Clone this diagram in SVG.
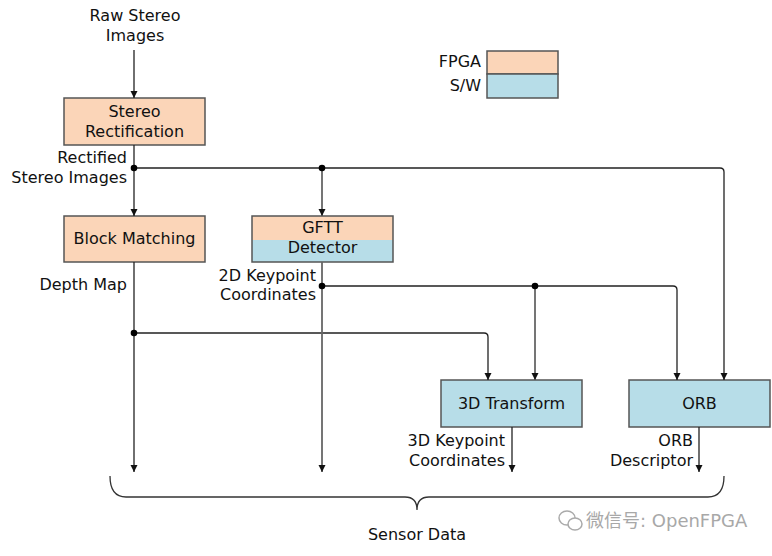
<svg xmlns="http://www.w3.org/2000/svg" width="772" height="556" viewBox="0 0 772 556">
<defs>
<marker id="arr" viewBox="0 0 10 10" refX="10" refY="5" markerWidth="7" markerHeight="9" markerUnits="userSpaceOnUse" orient="auto">
<path d="M0,0 L10,5 L0,10 Z" fill="#111"/>
</marker>
<style>
text{font-family:"DejaVu Sans","Noto Sans CJK SC",sans-serif;font-size:16px;fill:#111}
.c{text-anchor:middle}
.r{text-anchor:end}
.box{stroke:#555;stroke-width:1.5}
.fpga{fill:#FBD5B8}
.sw{fill:#B7DDE8}
.ln{fill:none;stroke:#222;stroke-width:1.3}
.lg{fill:none;stroke:#666;stroke-width:1.8}
.dot{fill:#000}
.wm{fill:#a8a8a8;font-size:18px}
</style>
</defs>
<rect width="772" height="556" fill="#fff"/>

<g id="input-label">
<text class="c" x="135" y="21">Raw Stereo</text>
<text class="c" x="135" y="41">Images</text>
</g>

<g id="legend">
<rect class="box fpga" x="487" y="51" width="71" height="23"/>
<rect class="box sw" x="487" y="74" width="71" height="24"/>
<text class="r" x="481" y="67">FPGA</text>
<text class="r" x="481" y="91">S/W</text>
</g>

<g id="stereo-rectification">
<rect class="box fpga" x="64" y="98" width="141" height="47"/>
<text class="c" x="134.5" y="117">Stereo</text>
<text class="c" x="134.5" y="137">Rectification</text>
</g>

<g id="block-matching">
<rect class="box fpga" x="64" y="216" width="141" height="46"/>
<text class="c" x="134.5" y="244">Block Matching</text>
</g>

<g id="gftt-detector">
<rect class="fpga" x="252" y="216" width="141" height="24"/>
<rect class="sw" x="252" y="240" width="141" height="22"/>
<rect class="box" x="252" y="216" width="141" height="46" fill="none"/>
<text class="c" x="322.5" y="233">GFTT</text>
<text class="c" x="322.5" y="253">Detector</text>
</g>

<g id="transform-3d">
<rect class="box sw" x="441" y="380" width="141" height="47"/>
<text class="c" x="511.5" y="409">3D Transform</text>
</g>

<g id="orb">
<rect class="box sw" x="629" y="380" width="141" height="47"/>
<text class="c" x="699.5" y="409">ORB</text>
</g>

<g id="connectors">
<line class="ln" x1="134" y1="50" x2="134" y2="98" marker-end="url(#arr)"/>
<line class="ln" x1="134" y1="145" x2="134" y2="216" marker-end="url(#arr)"/>
<path class="ln" d="M134,168 H720 Q724,168 724,172 V380" marker-end="url(#arr)"/>
<line class="lg" x1="322" y1="168" x2="322" y2="216" marker-end="url(#arr)"/>
<line class="ln" x1="134" y1="262" x2="134" y2="472" marker-end="url(#arr)"/>
<path class="ln" d="M134,333 H484 Q488,333 488,337 V380" marker-end="url(#arr)"/>
<line class="lg" x1="322" y1="262" x2="322" y2="472" marker-end="url(#arr)"/>
<path class="ln" d="M322,286 H673 Q677,286 677,290 V380" marker-end="url(#arr)"/>
<line class="lg" x1="535" y1="286" x2="535" y2="380" marker-end="url(#arr)"/>
<line class="ln" x1="512" y1="427" x2="512" y2="472" marker-end="url(#arr)"/>
<line class="ln" x1="699" y1="427" x2="699" y2="472" marker-end="url(#arr)"/>
<circle class="dot" cx="134" cy="168" r="3.3"/>
<circle class="dot" cx="322" cy="168" r="3.3"/>
<circle class="dot" cx="322" cy="286" r="3.3"/>
<circle class="dot" cx="535" cy="286" r="3.3"/>
<circle class="dot" cx="134" cy="333" r="3.3"/>
</g>

<g id="labels">
<text class="r" x="127" y="163">Rectified</text>
<text class="r" x="127" y="183">Stereo Images</text>
<text class="r" x="127" y="290">Depth Map</text>
<text class="r" x="316" y="281">2D Keypoint</text>
<text class="r" x="316" y="300">Coordinates</text>
<text class="r" x="505" y="446">3D Keypoint</text>
<text class="r" x="505" y="466">Coordinates</text>
<text class="r" x="693" y="446">ORB</text>
<text class="r" x="693" y="466">Descriptor</text>
</g>

<g id="sensor-data">
<path fill="none" stroke="#333" stroke-width="1.3" d="M110,476 Q110,497 126,497 H405 Q417,497 417,510 Q417,497 429,497 H708 Q724,497 724,476"/>
<text class="c" x="417" y="540">Sensor Data</text>
</g>

<g id="watermark">
<ellipse cx="567" cy="518" rx="8" ry="7" fill="none" stroke="#aaa" stroke-width="1.5"/>
<ellipse cx="575" cy="524" rx="7" ry="6" fill="#fff" stroke="#aaa" stroke-width="1.5"/>
<text class="wm" x="586" y="527">微信号: OpenFPGA</text>
</g>
</svg>
